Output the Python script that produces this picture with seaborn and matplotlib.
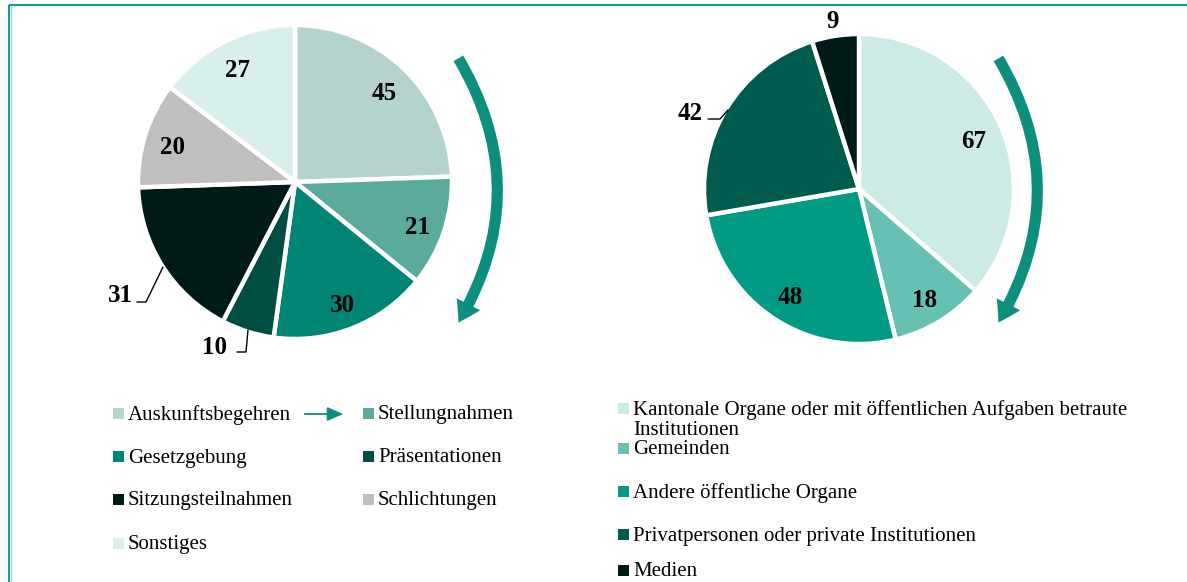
import matplotlib
matplotlib.use("Agg")
import matplotlib.pyplot as plt
import seaborn as sns
import numpy as np
from matplotlib.patches import Rectangle, FancyArrowPatch

# ---------------- data ----------------
left_labels = ["Auskunftsbegehren", "Stellungnahmen", "Gesetzgebung", "Präsentationen",
               "Sitzungsteilnahmen", "Schlichtungen", "Sonstiges"]
left_values = [45, 21, 30, 10, 31, 20, 27]
left_colors = ["#B5D3CE", "#5AAA9E", "#008575", "#004D44", "#001A17", "#BFBFBF", "#D9EFEC"]

right_labels = ["Kantonale Organe oder mit öffentlichen Aufgaben betraute\nInstitutionen",
                "Gemeinden", "Andere öffentliche Organe",
                "Privatpersonen oder private Institutionen", "Medien"]
right_values = [67, 18, 48, 42, 9]
right_colors = ["#CCEBE6", "#66C0B4", "#009A85", "#005B4F", "#001A17"]

sns.set_theme(style="white")
plt.rcParams['font.family'] = ['Liberation Serif', 'DejaVu Serif']

W, H = 1187, 582
fig = plt.figure(figsize=(W / 100, H / 100), dpi=100)
ax = fig.add_axes([0, 0, 1, 1])

def Y(y):
    return H - y

TEAL = "#0E8E7C"
LFS = 18

def draw_pie(center, radius, values, colors, inside_factor, outside):
    wedges, _ = ax.pie(values, colors=colors, startangle=90, counterclock=False,
                       center=center, radius=radius,
                       wedgeprops=dict(edgecolor="white", linewidth=3.2),
                       frame=True)
    for i, (w, v) in enumerate(zip(wedges, values)):
        if i in outside:
            continue
        ang = np.deg2rad((w.theta1 + w.theta2) / 2)
        x = center[0] + inside_factor * radius * np.cos(ang)
        y = center[1] + inside_factor * radius * np.sin(ang) - 4
        ax.text(x, y, str(v), ha="center", va="center", fontsize=LFS,
                fontweight="bold", color="black")
    return wedges

lc = (295, Y(182)); lr = 157
rc = (859, Y(189)); rr = 155
draw_pie(lc, lr, left_values, left_colors, 0.82, outside={3, 4})
draw_pie(rc, rr, right_values, right_colors, 0.81, outside={3, 4})
ax.set_xlim(0, W)
ax.set_ylim(0, H)
ax.set_aspect('equal')
ax.axis('off')

# frame
ax.plot([9, W], [Y(5), Y(5)], color="#179C8F", lw=1.5, solid_capstyle='butt')
ax.plot([9, 9], [Y(5), 0], color="#179C8F", lw=1.5, solid_capstyle='butt')
ax.plot([10.5, 10.5], [Y(6), 0], color="#9FD8D0", lw=1.0, solid_capstyle='butt')

# outside labels with leader lines
def outlabel(text, tx, ty, pts):
    ax.text(tx, Y(ty), text, ha="center", va="center", fontsize=LFS,
            fontweight="bold", color="black")
    xs = [p[0] for p in pts]; ys = [Y(p[1]) for p in pts]
    ax.plot(xs, ys, color="black", lw=1.0)

outlabel(str(left_values[3]), 215, 347, [(237, 352), (246, 352), (248, 330)])
outlabel(str(left_values[4]), 120, 296, [(137, 302), (146, 302), (163, 267)])
outlabel(str(right_values[3]), 690, 113, [(708, 119), (720, 119), (728, 110)])
ax.text(833, Y(21), str(right_values[4]), ha="center", va="center", fontsize=LFS,
        fontweight="bold", color="black")

# curved arrows
for x0 in (457, 997):
    arr = FancyArrowPatch((x0, Y(56)), (x0, Y(325)),
                          connectionstyle="arc3,rad=-0.30",
                          arrowstyle="simple,head_length=15,head_width=19,tail_width=8",
                          color=TEAL, lw=0, mutation_scale=1)
    ax.add_patch(arr)

# legends
FS = 15
def legend_item(x, y, color, text):
    ax.add_patch(Rectangle((x, Y(y) - 5.5), 11, 11, facecolor=color, edgecolor="none"))
    ax.text(x + 15, Y(y) - 2, text, ha="left", va="center", fontsize=FS, color="black",
            linespacing=1.1)

lrows = [413, 456, 499, 543]
pos = [(113, lrows[0]), (363, lrows[0]), (113, lrows[1]), (363, lrows[1]),
       (113, lrows[2]), (363, lrows[2]), (113, lrows[3])]
for (x, y), c, t in zip(pos, left_colors, left_labels):
    legend_item(x, y, c, t)

ax.annotate("", xy=(346, Y(414)), xytext=(302, Y(414)),
            arrowprops=dict(arrowstyle="-|>,head_length=0.8,head_width=0.35",
                            color=TEAL, lw=1.3))

rrows = [408, 448, 491, 534, 570]
for i, (c, t) in enumerate(zip(right_colors, right_labels)):
    if i == 0:
        ax.add_patch(Rectangle((618, Y(408) - 5.5), 11, 11, facecolor=c, edgecolor="none"))
        ax.text(633, Y(408) + 8, t, ha="left", va="top", fontsize=FS, color="black",
                linespacing=1.05)
    else:
        legend_item(618, rrows[i], c, t)

fig.savefig("out.png", dpi=100, facecolor="white")
